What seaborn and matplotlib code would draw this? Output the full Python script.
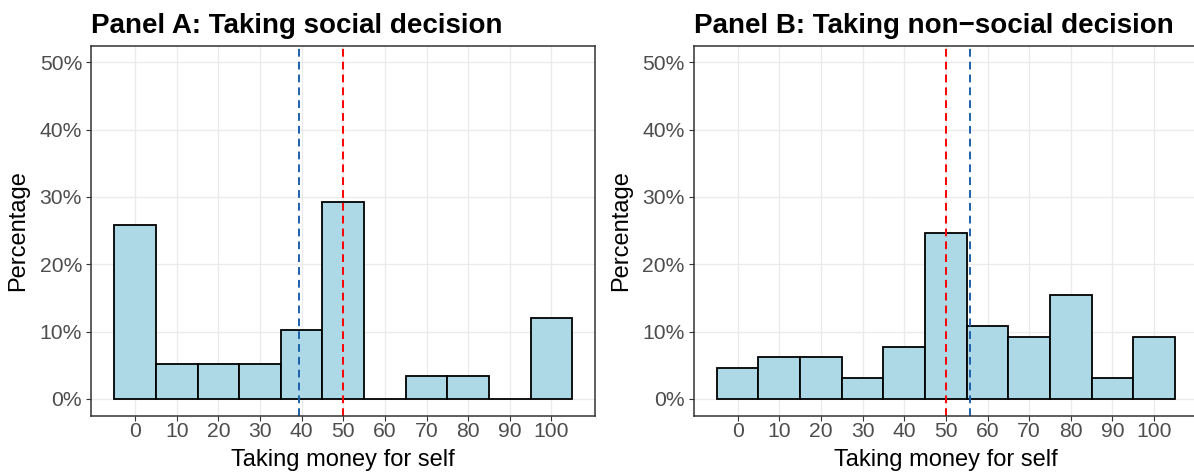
import numpy as np
import pandas as pd
import matplotlib
matplotlib.use('Agg')
import matplotlib.pyplot as plt
import seaborn as sns
from matplotlib.ticker import FuncFormatter

# 数据：每个区间的百分比
bin_centers = [0, 10, 20, 30, 40, 50, 60, 70, 80, 90, 100]
pct_social = [25.9, 5.2, 5.2, 5.2, 10.3, 29.3, 0.0, 3.4, 3.4, 0.0, 12.1]
pct_nonsocial = [4.6, 6.2, 6.2, 3.1, 7.7, 24.6, 10.8, 9.2, 15.4, 3.1, 9.2]
mean_social, median_social = 39.4, 50
mean_nonsocial, median_nonsocial = 55.9, 50
titles = ['Panel A: Taking social decision', 'Panel B: Taking non\u2212social decision']

sns.set_theme(style='white')
plt.rcParams['font.family'] = ['Liberation Sans', 'DejaVu Sans']

fig = plt.figure(figsize=(11.94, 4.75), dpi=100)
ax_a = fig.add_axes([0.0765, 0.1246, 0.4220, 0.7796])
ax_b = fig.add_axes([0.5812, 0.1246, 0.4220, 0.7796])

panels = [
    (ax_a, pct_social, mean_social, median_social, titles[0]),
    (ax_b, pct_nonsocial, mean_nonsocial, median_nonsocial, titles[1]),
]

for ax, pct, mean_v, med_v, title in panels:
    ax.set_axisbelow(True)
    df = pd.DataFrame({'x': bin_centers, 'w': np.array(pct) / 100})
    sns.histplot(data=df, x='x', weights='w', binwidth=10, binrange=(-5, 105),
                 color='#ADD8E6', edgecolor='black', linewidth=1.3, alpha=1, ax=ax)
    ax.axvline(med_v, color='#FF0000', linestyle=(0, (4, 2.6)), linewidth=1.4)
    ax.axvline(mean_v, color='#1C60AC', linestyle=(0, (4, 2.6)), linewidth=1.4)

    ax.set_xlim(-10.5, 110.5)
    ax.set_ylim(-0.025, 0.525)
    ax.set_xticks(bin_centers)
    ax.set_yticks([0, 0.1, 0.2, 0.3, 0.4, 0.5])
    ax.yaxis.set_major_formatter(FuncFormatter(lambda v, p: f'{v * 100:.0f}%'))
    ax.grid(True, color='#EBEBEB', linewidth=1.0)
    for s in ax.spines.values():
        s.set_color('#333333')
        s.set_linewidth(1.1)
    ax.tick_params(axis='both', length=3.4, width=0.8, color='#333333',
                   labelsize=15.2, labelcolor='#4D4D4D', bottom=True, left=True)
    ax.tick_params(axis='x', pad=1.2)
    ax.tick_params(axis='y', pad=3.3)
    ax.set_xlabel('Taking money for self', fontsize=17, color='black', labelpad=5.5)
    ax.set_ylabel('Percentage', fontsize=17, color='black', labelpad=7.5)
    ax.set_title(title, loc='left', fontsize=20, fontweight='bold', color='black', pad=9)

fig.savefig('out.png', dpi=100)
